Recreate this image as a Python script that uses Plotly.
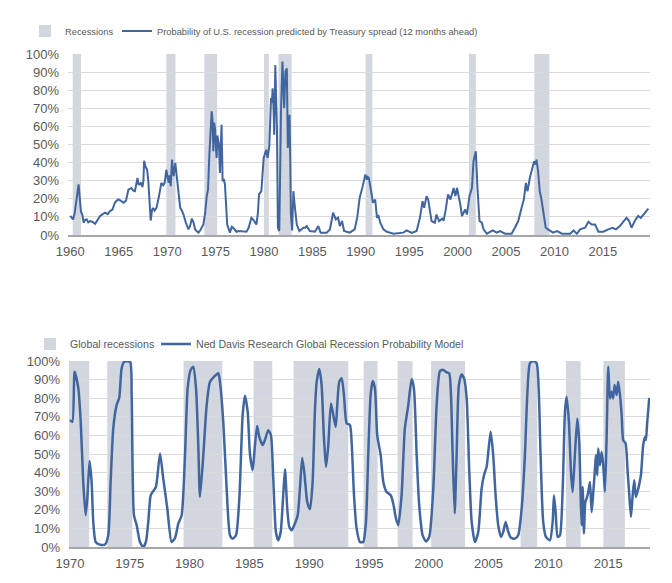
import plotly.graph_objects as go

FONT = "Liberation Sans, Arial, sans-serif"
TEXT = "#595959"
LINE = "#41669f"
BAND = "#d2d6de"
GRID = "#dadada"
AXIS = "#a6a6a6"
W, H = 672, 583

# ---------------- Top chart: US recession probability (Treasury spread) ----------------
us_years = [
    1960.0, 1960.15, 1960.28, 1960.45, 1960.7, 1960.85, 1961.1, 1961.25, 1961.37, 1961.55,
    1961.7, 1961.85, 1962.05, 1962.3, 1962.56, 1962.8, 1963.08, 1963.35, 1963.6, 1963.85,
    1964.1, 1964.35, 1964.6, 1964.8, 1964.96, 1965.2, 1965.5, 1965.75, 1966.0, 1966.3,
    1966.5, 1966.67, 1966.8, 1966.94, 1967.05, 1967.18, 1967.3, 1967.45, 1967.55, 1967.62,
    1967.75, 1967.93, 1968.05, 1968.13, 1968.3, 1968.45, 1968.55, 1968.7, 1968.9, 1969.16,
    1969.4, 1969.6, 1969.74, 1969.92, 1970.15, 1970.27, 1970.37, 1970.5, 1970.67, 1970.84,
    1971.07, 1971.35, 1971.52, 1971.69, 1971.92, 1972.2, 1972.37, 1972.55, 1972.72, 1972.89,
    1973.23, 1973.47, 1973.74, 1973.92, 1974.09, 1974.22, 1974.36, 1974.52, 1974.6, 1974.69,
    1974.77, 1974.85, 1974.94, 1975.02, 1975.11, 1975.19, 1975.27, 1975.35, 1975.45, 1975.54,
    1975.62, 1975.73, 1975.85, 1975.97, 1976.07, 1976.2, 1976.48, 1976.67, 1976.82, 1977.17,
    1977.42, 1977.67, 1977.92, 1978.19, 1978.42, 1978.7, 1978.87, 1979.07, 1979.22, 1979.37,
    1979.49, 1979.73, 1979.85, 1979.97, 1980.24, 1980.38, 1980.55, 1980.64, 1980.73, 1980.82,
    1980.89, 1980.99, 1981.06, 1981.17, 1981.26, 1981.34, 1981.44, 1981.58, 1981.66, 1981.75,
    1981.91, 1982.01, 1982.09, 1982.22, 1982.36, 1982.46, 1982.56, 1982.64, 1982.72, 1982.78,
    1982.91, 1983.04, 1983.14, 1983.22, 1983.39, 1983.66, 1983.89, 1984.07, 1984.24, 1984.42,
    1984.74, 1985.27, 1985.61, 1985.85, 1986.47, 1986.81, 1987.14, 1987.42, 1987.66, 1987.83,
    1988.07, 1988.27, 1988.86, 1989.37, 1989.64, 1989.88, 1990.2, 1990.47, 1990.64, 1990.73,
    1990.84, 1990.98, 1991.11, 1991.26, 1991.49, 1991.67, 1991.81, 1992.01, 1992.34, 1992.69,
    1993.37, 1993.91, 1994.39, 1994.74, 1995.26, 1995.77, 1996.11, 1996.38, 1996.55, 1996.79,
    1996.96, 1997.31, 1997.65, 1997.81, 1998.09, 1998.41, 1998.56, 1998.77, 1999.01, 1999.26,
    1999.59, 1999.77, 1999.94, 2000.28, 2000.45, 2000.78, 2000.96, 2001.23, 2001.48, 2001.64,
    2001.88, 2002.05, 2002.26, 2002.5, 2002.68, 2003.02, 2003.63, 2004.04, 2004.38, 2004.9,
    2005.58, 2005.92, 2006.26, 2006.61, 2006.84, 2007.05, 2007.22, 2007.46, 2007.73, 2007.9,
    2008.03, 2008.15, 2008.31, 2008.4, 2008.48, 2008.66, 2008.9, 2009.1, 2009.34, 2009.85,
    2010.27, 2010.78, 2011.63, 2011.97, 2012.32, 2012.65, 2013.17, 2013.51, 2013.85, 2014.2,
    2014.54, 2015.05, 2015.55, 2016.01, 2016.35, 2016.76, 2017.1, 2017.45, 2017.72, 2017.96,
    2018.3, 2018.64, 2018.92, 2019.22, 2019.5, 2019.7,
]
us_prob = [
    10.5, 9.5, 8.6, 12, 24, 28, 13, 11, 6.8, 8.5,
    8.6, 7, 7.7, 7.2, 6.2, 8, 10.5, 11.5, 12.3, 11.5,
    13.2, 14, 17.8, 19, 19.6, 19, 17.8, 19, 25.1, 26,
    24.5, 24.2, 27, 31.5, 28, 27.9, 29, 26.5, 30, 41,
    38, 36, 30, 22.4, 8, 14, 15, 13.5, 15, 21.5,
    28.8, 27.5, 28.8, 36, 28.8, 33, 27, 41.6, 32.5, 39.8,
    29.7, 15, 13.5, 11.3, 7, 3.1, 5, 9.1, 7, 3.1,
    1.3, 3, 5.8, 12, 21.5, 25, 44.4, 60, 68.3, 63,
    46.3, 62, 59, 50, 42.6, 55, 52.6, 50, 34.3, 45,
    60.9, 29.7, 31, 27.9, 15, 5.8, 1.3, 4.5, 4, 1.8,
    2.2, 2.2, 1.8, 1.8, 4, 9.5, 8.6, 7, 5.8, 12,
    22.4, 24.2, 35, 42.6, 47.1, 42.6, 49, 65, 75.6, 73,
    81.1, 70, 55.4, 93.9, 80, 59.1, 4, 2.2, 30, 66.4,
    95.8, 85, 70.1, 90.3, 92.1, 48.1, 60, 66.4, 40, 11.3,
    2.5, 24.2, 18, 15, 5.8, 2.2, 3, 4, 4, 4.9,
    2.2, 1.8, 4.9, 1.3, 1.3, 3.1, 12.3, 8.6, 9.5, 4.9,
    7.7, 2.2, 1.3, 3.1, 10, 20.5, 27, 33.4, 30.6, 32,
    31.5, 26, 22, 17.8, 19.6, 9.5, 11, 6.8, 3.1, 1.8,
    0.7, 0.8, 1.3, 2.5, 1.1, 2.2, 9.5, 18.7, 15, 21.5,
    19.6, 7.7, 6.8, 11.3, 7.7, 9, 8, 14, 22.4, 19.6,
    26, 21.5, 26, 16.8, 10.5, 14.1, 11.3, 21.5, 26, 40.7,
    46.3, 26, 7.7, 6.8, 3.1, 0.7, 2.5, 1.3, 2.2, 0.7,
    0.7, 4, 7.7, 15, 19.6, 28.8, 24.2, 31.5, 38, 40.7,
    39, 41.6, 35.2, 30, 24.2, 19.6, 11.3, 4, 3.1, 1.3,
    2.2, 0.7, 0.7, 2.5, 0.7, 3.1, 4, 7.3, 5.8, 5.8,
    1.8, 1.8, 3.1, 4, 3.1, 4.9, 7.3, 9.5, 7.7, 4,
    7.7, 10.5, 9.5, 11.3, 13.2, 14.6,
]
us_rec_start = [1960.25, 1969.92, 1973.84, 1980.0, 1981.5, 1990.5, 2001.17, 2007.92]
us_rec_end = [1961.1, 1970.86, 1975.16, 1980.5, 1982.86, 1991.2, 2001.88, 2009.48]
us_ticks = [1960, 1965, 1970, 1975, 1980, 1985, 1990, 1995, 2000, 2005, 2010, 2015]

# ---------------- Bottom chart: Ned Davis global recession probability ----------------
gl_years = [
    1970.0, 1970.2, 1970.39, 1970.7, 1970.9, 1971.11, 1971.31, 1971.45, 1971.64, 1971.81,
    1971.95, 1972.15, 1972.5, 1972.93, 1973.2, 1973.4, 1973.62, 1973.9, 1974.12, 1974.32,
    1974.54, 1975.02, 1975.16, 1975.35, 1975.58, 1975.85, 1976.13, 1976.35, 1976.55, 1976.75,
    1976.96, 1977.19, 1977.53, 1977.8, 1978.14, 1978.5, 1978.78, 1979.06, 1979.34, 1979.62,
    1979.84, 1980.09, 1980.31, 1980.54, 1980.73, 1980.87, 1981.15, 1981.43, 1981.71, 1982.04,
    1982.4, 1982.54, 1982.82, 1983.1, 1983.38, 1983.6, 1983.88, 1984.16, 1984.44, 1984.63,
    1984.86, 1985.05, 1985.28, 1985.47, 1985.65, 1985.83, 1986.11, 1986.3, 1986.58, 1986.8,
    1987.0, 1987.22, 1987.42, 1987.62, 1987.83, 1987.98, 1988.17, 1988.34, 1988.54, 1988.75,
    1989.04, 1989.23, 1989.42, 1989.59, 1989.84, 1990.07, 1990.29, 1990.48, 1990.63, 1990.85,
    1991.04, 1991.24, 1991.41, 1991.6, 1991.82, 1992.02, 1992.22, 1992.35, 1992.52, 1992.72,
    1992.91, 1993.14, 1993.41, 1993.55, 1993.75, 1993.97, 1994.25, 1994.52, 1994.75, 1994.94,
    1995.14, 1995.31, 1995.5, 1995.69, 1995.98, 1996.2, 1996.48, 1996.82, 1997.03, 1997.26,
    1997.45, 1997.73, 1998.0, 1998.29, 1998.57, 1998.76, 1998.99, 1999.2, 1999.49, 1999.77,
    2000.04, 2000.38, 2000.66, 2000.94, 2001.21, 2001.5, 2001.71, 2001.86, 2002.0, 2002.17,
    2002.33, 2002.52, 2002.75, 2002.97, 2003.17, 2003.39, 2003.59, 2003.86, 2004.14, 2004.42,
    2004.62, 2004.84, 2005.01, 2005.18, 2005.39, 2005.59, 2005.81, 2006.04, 2006.23, 2006.43,
    2006.65, 2006.87, 2007.21, 2007.48, 2007.77, 2008.04, 2008.24, 2008.46, 2008.74, 2009.02,
    2009.19, 2009.35, 2009.57, 2009.8, 2010.13, 2010.36, 2010.47, 2010.61, 2010.78, 2010.97,
    2011.2, 2011.39, 2011.53, 2011.72, 2011.89, 2012.03, 2012.22, 2012.42, 2012.58, 2012.7,
    2012.78, 2012.87, 2012.98, 2013.09, 2013.2, 2013.34, 2013.48, 2013.62, 2013.76, 2013.9,
    2013.98, 2014.09, 2014.17, 2014.31, 2014.46, 2014.59, 2014.73, 2014.87, 2015.01, 2015.15,
    2015.29, 2015.42, 2015.54, 2015.71, 2015.84, 2015.99, 2016.13, 2016.26, 2016.46, 2016.63,
    2016.77, 2016.91, 2017.05, 2017.18, 2017.32, 2017.52, 2017.74, 2017.93, 2018.08, 2018.16,
    2018.27, 2018.44,
]
gl_prob = [
    68.2, 67.3, 94.2, 85.3, 67.3, 35, 17.1, 26, 46.2, 35,
    13.5, 2.7, 1.3, 1.3, 6.3, 35, 63.7, 76.3, 80.2, 96,
    99.6, 99.6, 81.7, 17.1, 11.7, 2.7, 0, 2.7, 13.5, 27.8,
    30, 32.3, 50.3, 36.8, 20.7, 2.7, 4.8, 12.6, 17.1, 49.4,
    85.3, 95.2, 96.9, 85.3, 54.8, 26.9, 49.4, 76.3, 88.9, 91.5,
    93.4, 88.9, 67.3, 31.4, 6.3, 4.5, 6.3, 26, 70.9, 81.3,
    72.7, 50, 41.3, 54.8, 65, 59.2, 54.8, 57.5, 62.8, 60.2,
    36.8, 8.1, 3.6, 8.1, 27.8, 41.8, 20.7, 10.8, 9, 11.7,
    17.1, 31.4, 47.9, 40.4, 24.2, 20.3, 35, 72.7, 88.9, 95.7,
    87.1, 58.4, 43.1, 54.8, 77.2, 70.9, 64.6, 76.3, 88.9, 90.7,
    81.7, 66.5, 65.6, 56.6, 27.8, 9.9, 2.7, 2.7, 13.5, 49.4,
    81.7, 89.2, 85.3, 60.2, 49.4, 35, 29.6, 27.8, 23.4, 15.3,
    11.7, 27.8, 63.7, 76.3, 90.3, 85.3, 49.4, 22.5, 6.3, 3,
    5.4, 31.4, 76.3, 94.6, 95.2, 93.9, 93.4, 81.7, 49.4, 18,
    49.4, 87.1, 92.8, 90.3, 79.9, 40.4, 13.5, 2.7, 8.1, 31.4,
    38.6, 43.1, 53, 61.9, 49.4, 27.8, 11.7, 5.4, 8.1, 13.5,
    8.1, 5, 4.5, 6.3, 20.7, 49.4, 81.7, 98.8, 100, 98.8,
    85.3, 49.4, 13.5, 5.4, 3.6, 13.5, 27.8, 18.8, 5.4, 6.3,
    31.4, 72.7, 80.8, 67.3, 40.4, 29.6, 49.4, 69.1, 56.6, 27.8,
    11.7, 32.3, 7.2, 24.2, 26, 29.6, 35, 18.8, 29.6, 42.2,
    49.4, 38.6, 53, 44, 51.2, 44, 29.6, 58.4, 96.9, 79.9,
    83.5, 79.9, 87.1, 81.7, 88.9, 81.7, 70.9, 57.5, 55.7, 40.4,
    27.8, 16.2, 27.8, 35.9, 26.9, 31.4, 38.6, 54.8, 59.2, 57.5,
    67.3, 80.2,
]
gl_rec_start = [1969.92, 1973.12, 1979.5, 1985.36, 1988.7, 1994.55, 1997.4, 2000.2, 2007.68, 2011.47, 2014.6]
gl_rec_end = [1971.61, 1975.21, 1982.74, 1986.92, 1993.27, 1995.72, 1998.65, 2003.03, 2009.07, 2012.7, 2016.4]
gl_ticks = [1970, 1975, 1980, 1985, 1990, 1995, 2000, 2005, 2010, 2015]

pct_ticks = [0, 10, 20, 30, 40, 50, 60, 70, 80, 90, 100]
pct_labels = [f"{v}%" for v in pct_ticks]

fig = go.Figure()

# legend proxies for recession bands
fig.add_trace(go.Bar(x=[None], y=[None], name="Recessions", marker=dict(color=BAND, line=dict(width=0)),
                     xaxis="x", yaxis="y", legend="legend"))
fig.add_trace(go.Scatter(x=us_years, y=us_prob, mode="lines",
                         name="Probability of U.S. recession predicted by Treasury spread (12 months ahead)",
                         line=dict(color=LINE, width=2), xaxis="x", yaxis="y", legend="legend2",
                         hoverinfo="skip"))
fig.add_trace(go.Bar(x=[None], y=[None], name="Global recessions", marker=dict(color=BAND, line=dict(width=0)),
                     xaxis="x2", yaxis="y2", legend="legend3"))
fig.add_trace(go.Scatter(x=gl_years, y=gl_prob, mode="lines",
                         name="Ned Davis Research Global Recession Probability Model",
                         line=dict(color=LINE, width=2.5, shape="spline", smoothing=0.6),
                         xaxis="x2", yaxis="y2", legend="legend4", hoverinfo="skip"))

shapes = []
for s, e in zip(us_rec_start, us_rec_end):
    shapes.append(dict(type="rect", xref="x", yref="y", x0=s, x1=e, y0=0, y1=100,
                       fillcolor=BAND, line=dict(width=0), layer="below"))
for s, e in zip(gl_rec_start, gl_rec_end):
    shapes.append(dict(type="rect", xref="x2", yref="y2", x0=s, x1=e, y0=0, y1=100,
                       fillcolor=BAND, line=dict(width=0), layer="below"))

tickfont = dict(family=FONT, size=13, color=TEXT)

def xaxis(dom, rng, ticks, anchor):
    return dict(domain=dom, range=rng, type="linear", tickvals=ticks, ticktext=[str(t) for t in ticks],
                showgrid=False, zeroline=False, showline=True, linecolor=AXIS, linewidth=1.5,
                ticks="", tickfont=tickfont, anchor=anchor, fixedrange=True, ticklabelstandoff=4,
                automargin=False)

def yaxis(dom, anchor):
    return dict(domain=dom, range=[0, 100], type="linear", tickvals=pct_ticks, ticktext=pct_labels,
                showgrid=True, gridcolor=GRID, gridwidth=1, zeroline=False, showline=False,
                ticks="", tickfont=tickfont, anchor=anchor, fixedrange=True, ticklabelstandoff=8,
                automargin=False)

def leg(x, y, size):
    return dict(x=x / W, xanchor="left", y=1 - y / H, yanchor="middle", orientation="h",
                font=dict(family=FONT, size=size, color=TEXT), bgcolor="rgba(0,0,0,0)",
                borderwidth=0, itemwidth=30, itemclick=False, itemdoubleclick=False)

fig.update_layout(
    template="none",
    width=W, height=H,
    margin=dict(l=0, r=0, t=0, b=0, autoexpand=False),
    paper_bgcolor="white", plot_bgcolor="white",
    barmode="overlay",
    showlegend=True,
    xaxis=xaxis([68 / W, 650 / W], [1959.76, 2019.87], us_ticks, "y"),
    yaxis=yaxis([1 - 235 / H, 1 - 54 / H], "x"),
    xaxis2=xaxis([69 / W, 650 / W], [1969.92, 2018.5], gl_ticks, "y2"),
    yaxis2=yaxis([1 - 547 / H, 1 - 361 / H], "x2"),
    shapes=shapes,
    legend=leg(25, 31, 9.3),
    legend2=leg(117, 31, 9.3),
    legend3=leg(30, 344, 10.6),
    legend4=leg(156, 344, 10.6),
    font=dict(family=FONT, color=TEXT),
)

fig.write_html("out.html", config={"displayModeBar": False},
               post_script="document.body.style.margin='0px';")
